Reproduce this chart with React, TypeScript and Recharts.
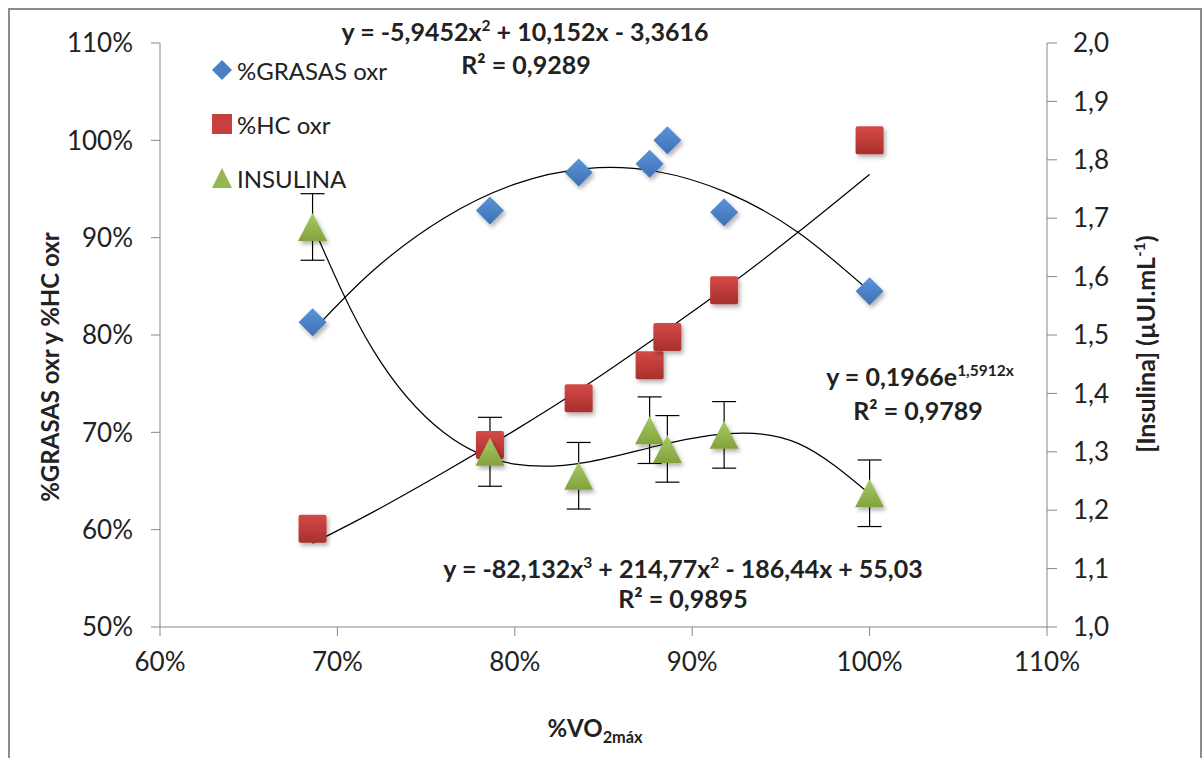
import React from "react";
import {
  ComposedChart,
  Scatter,
  Line,
  XAxis,
  YAxis,
  ErrorBar,
  Legend,
} from "recharts";

// %VO2max of each stage
const vo2 = [68.6, 78.6, 83.6, 87.6, 88.6, 91.8, 100];
const grasas = [81.3, 92.8, 96.7, 97.6, 100.0, 92.6, 84.5];
const hc = [60.1, 68.7, 73.5, 76.9, 79.8, 84.6, 100];
const insulina = [1.685, 1.3, 1.259, 1.337, 1.305, 1.329, 1.229];
const insulinaErr = [0.057, 0.059, 0.057, 0.057, 0.057, 0.057, 0.057];

// trend lines, points
const trendX = [68.6, 72, 76, 80, 84, 88, 92, 96, 100];
const grasasTrend = [80.4, 86.6, 92.0, 95.5, 97.1, 96.8, 94.6, 90.5, 84.5];
const hcTrend = [58.6, 61.8, 65.9, 70.2, 74.8, 79.8, 85.0, 90.6, 96.5];
const insulinaTrend = [1.688, 1.475, 1.333, 1.279, 1.282, 1.31, 1.331, 1.314, 1.228];

const xTicks = [60, 70, 80, 90, 100, 110];
const leftTicks = [50, 60, 70, 80, 90, 100, 110];
const rightTicks = [1.0, 1.1, 1.2, 1.3, 1.4, 1.5, 1.6, 1.7, 1.8, 1.9, 2.0];

const FONT = "Lato, 'Open Sans', sans-serif";
const AXIS = "#868686";
const TEXT = "#222";

const pts = (xs: number[], ys: number[]) => xs.map((x, i) => ({ x, y: ys[i] }));
const grasasData = pts(vo2, grasas);
const hcData = pts(vo2, hc);
const insulinaData = vo2.map((x, i) => ({ x, y: insulina[i], err: insulinaErr[i] }));

const Diamond = ({ cx, cy }: any) => (
  <path
    d={`M${cx},${cy - 14}L${cx + 14},${cy}L${cx},${cy + 14}L${cx - 14},${cy}Z`}
    fill="url(#gBlue)"
    filter="url(#shadow)"
  />
);
const Square = ({ cx, cy }: any) => (
  <rect x={cx - 14} y={cy - 14} width={28} height={28} rx={2} fill="url(#gRed)" filter="url(#shadow)" />
);
const Triangle = ({ cx, cy }: any) => (
  <path
    d={`M${cx},${cy - 14}L${cx + 14.5},${cy + 14}L${cx - 14.5},${cy + 14}Z`}
    fill="url(#gGreen)"
    filter="url(#shadow)"
  />
);

const legendItems = [
  { label: "%GRASAS oxr", shape: "diamond" },
  { label: "%HC oxr", shape: "square" },
  { label: "INSULINA", shape: "triangle" },
];

const LegendMarker = ({ shape }: { shape: string }) => (
  <svg width={20} height={20} style={{ overflow: "visible" }}>
    {shape === "diamond" && <path d="M10,0L20,10L10,20L0,10Z" fill="#4a7fc4" />}
    {shape === "square" && <rect x={0} y={0} width={20} height={20} fill="#c8403d" />}
    {shape === "triangle" && <path d="M10,0L20,20L0,20Z" fill="#94b84f" />}
  </svg>
);

const ChartLegend = () => (
  <div style={{ fontFamily: FONT, fontSize: 24, color: TEXT }}>
    {legendItems.map((it) => (
      <div key={it.label} style={{ display: "flex", alignItems: "center", height: 54 }}>
        <LegendMarker shape={it.shape} />
        <span style={{ marginLeft: 5 }}>{it.label}</span>
      </div>
    ))}
  </div>
);

const supStyle: React.CSSProperties = { fontSize: "0.62em", verticalAlign: "super", lineHeight: 0 };

const Note = ({
  x,
  y,
  children,
  rotate,
  size = 25,
}: {
  x: number;
  y: number;
  children: React.ReactNode;
  rotate?: boolean;
  size?: number;
}) => (
  <div
    style={{
      position: "absolute",
      left: x,
      top: y,
      transform: `translate(-50%, -50%)${rotate ? " rotate(-90deg)" : ""}`,
      whiteSpace: "nowrap",
      fontFamily: FONT,
      fontWeight: 700,
      fontSize: size,
      lineHeight: 1,
      color: TEXT,
    }}
  >
    {children}
  </div>
);

const tickStyle = { fontSize: 26, fill: TEXT, fontFamily: FONT };

const App = () => {
  return (
    <div style={{ position: "absolute", left: 0, top: 0, width: 1202, height: 758, background: "#fff", overflow: "hidden" }}>
      <div
        style={{
          position: "absolute",
          left: 8,
          top: 8,
          width: 1190,
          height: 760,
          border: "2px solid #8c8c8c",
        }}
      />
      <ComposedChart width={1202} height={758} margin={{ top: 43, right: 0, bottom: 0, left: 0 }}>
        <defs>
          <linearGradient id="gBlue" x1="0" y1="0" x2="0" y2="1">
            <stop offset="0%" stopColor="#5b95db" />
            <stop offset="100%" stopColor="#3d6fb3" />
          </linearGradient>
          <linearGradient id="gRed" x1="0" y1="0" x2="0" y2="1">
            <stop offset="0%" stopColor="#d44a47" />
            <stop offset="100%" stopColor="#a92f2c" />
          </linearGradient>
          <linearGradient id="gGreen" x1="0" y1="0" x2="0" y2="1">
            <stop offset="0%" stopColor="#a8c964" />
            <stop offset="100%" stopColor="#82a33c" />
          </linearGradient>
          <filter id="shadow" x="-50%" y="-50%" width="200%" height="200%">
            <feDropShadow dx="2" dy="3" stdDeviation="2" floodColor="#000" floodOpacity="0.3" />
          </filter>
        </defs>
        <XAxis
          dataKey="x"
          type="number"
          domain={[60, 110]}
          ticks={xTicks}
          tickFormatter={(v) => `${v}%`}
          height={131}
          tick={tickStyle}
          stroke={AXIS}
          tickSize={9}
          tickMargin={17}
          interval={0}
        />
        <YAxis
          yAxisId="left"
          type="number"
          domain={[50, 110]}
          ticks={leftTicks}
          tickFormatter={(v) => `${v}%`}
          width={160}
          tick={tickStyle}
          stroke={AXIS}
          tickSize={9}
          tickMargin={18}
          interval={0}
        />
        <YAxis
          yAxisId="right"
          orientation="right"
          type="number"
          domain={[1, 2]}
          ticks={rightTicks}
          tickFormatter={(v) => Number(v).toFixed(1).replace(".", ",")}
          width={155}
          tick={tickStyle}
          stroke={AXIS}
          tickSize={10}
          tickMargin={16}
          interval={0}
        />
        <Legend
          content={<ChartLegend />}
          layout="vertical"
          align="center"
          verticalAlign="middle"
          wrapperStyle={{ left: 212, top: 43, width: 220 }}
        />
        <Line yAxisId="left" data={pts(trendX, grasasTrend)} dataKey="y" type="natural" stroke="#000" strokeWidth={1.2} dot={false} activeDot={false} legendType="none" isAnimationActive={false} />
        <Line yAxisId="left" data={pts(trendX, hcTrend)} dataKey="y" type="natural" stroke="#000" strokeWidth={1.2} dot={false} activeDot={false} legendType="none" isAnimationActive={false} />
        <Line yAxisId="right" data={pts(trendX, insulinaTrend)} dataKey="y" type="natural" stroke="#000" strokeWidth={1.2} dot={false} activeDot={false} legendType="none" isAnimationActive={false} />
        <Scatter yAxisId="left" name="%GRASAS oxr" data={grasasData} dataKey="y" shape={<Diamond />} isAnimationActive={false} />
        <Scatter yAxisId="left" name="%HC oxr" data={hcData} dataKey="y" shape={<Square />} isAnimationActive={false} />
        <Scatter yAxisId="right" name="INSULINA" data={insulinaData} dataKey="y" shape={<Triangle />} isAnimationActive={false}>
          <ErrorBar dataKey="err" direction="y" width={12} stroke="#000" strokeWidth={1.2} />
        </Scatter>
      </ComposedChart>

      <Note x={525} y={31}>
        y = -5,9452x<span style={supStyle}>2</span> + 10,152x - 3,3616
      </Note>
      <Note x={526} y={64}>R² = 0,9289</Note>
      <Note x={920} y={376}>
        y = 0,1966e<span style={supStyle}>1,5912x</span>
      </Note>
      <Note x={918} y={410}>R² = 0,9789</Note>
      <Note x={683} y={568}>
        y = -82,132x<span style={supStyle}>3</span> + 214,77x<span style={supStyle}>2</span> - 186,44x + 55,03
      </Note>
      <Note x={683} y={598}>R² = 0,9895</Note>
      <Note x={595} y={728} size={24}>
        %VO<span style={{ fontSize: "0.68em", verticalAlign: "sub", lineHeight: 0 }}>2máx</span>
      </Note>
      <Note x={50} y={367} rotate size={24}>
        %GRASAS oxr y %HC oxr
      </Note>
      <Note x={1145} y={344} rotate size={25}>
        [Insulina] (µUI.mL<span style={supStyle}>-1</span>)
      </Note>
    </div>
  );
};

export default App;
